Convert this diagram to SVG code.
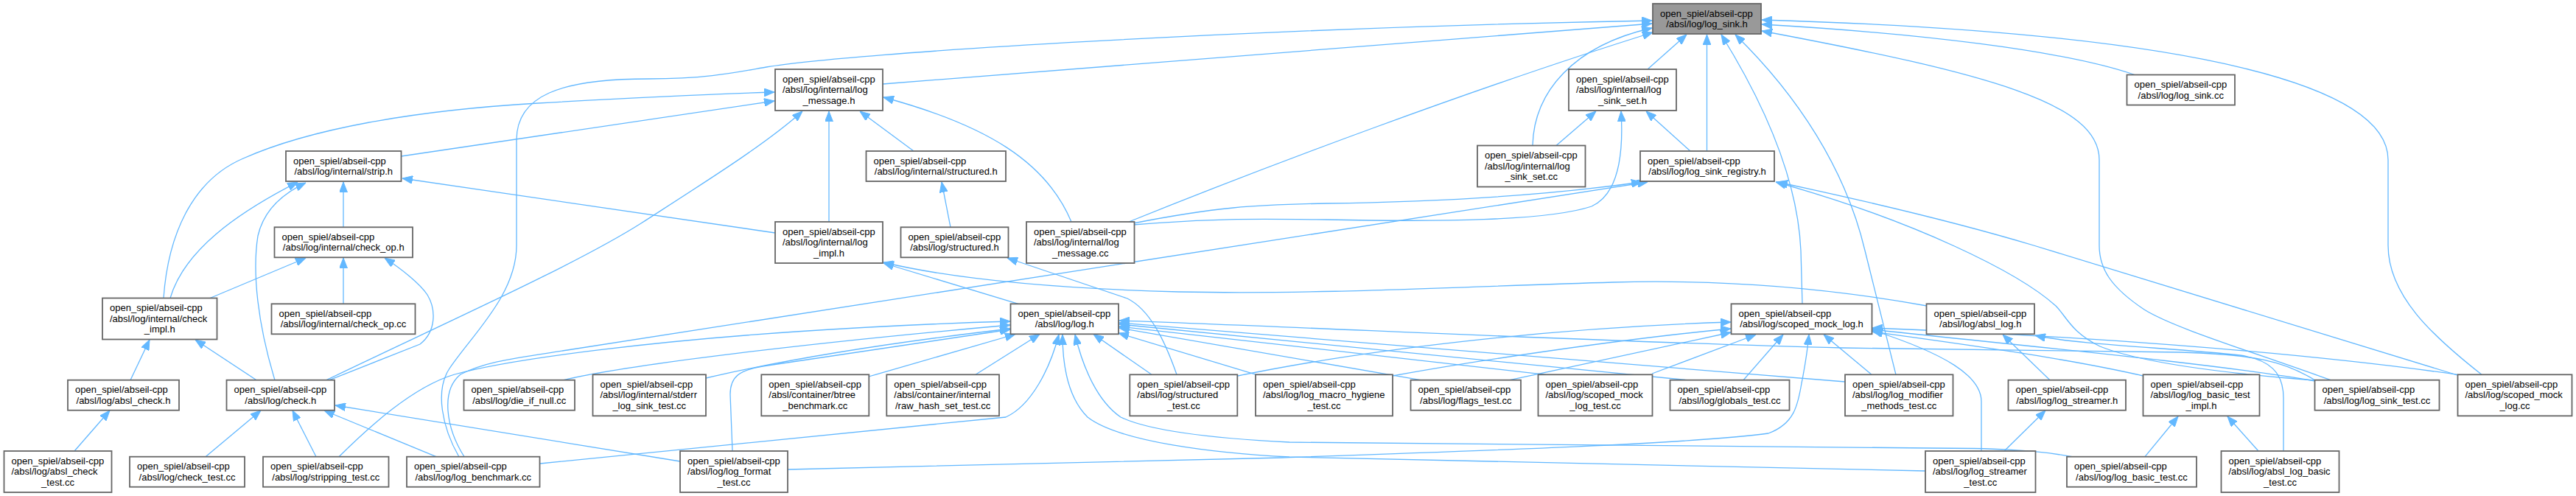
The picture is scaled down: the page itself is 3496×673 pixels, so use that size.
<svg xmlns="http://www.w3.org/2000/svg" width="3496" height="673" viewBox="0 0 3496 673">
<defs>
<marker id="a" viewBox="0 0 14 11" refX="14" refY="5.5" markerWidth="14" markerHeight="11" markerUnits="userSpaceOnUse" orient="auto">
<path d="M0,0 L14,5.5 L0,11 z" fill="#63b8ff" stroke="#63b8ff" stroke-width="1"/>
</marker>
<style>
.n rect{fill:#ffffff;stroke:#666666;stroke-width:1.8}
.root rect{fill:#999999}
text{font-family:"Liberation Sans",Arial,Helvetica,sans-serif;font-size:13px;fill:#000000}
text.m{text-anchor:middle}
.c path{fill:none;stroke:#63b8ff;stroke-width:1.3;marker-end:url(#a)}
</style>
</defs>
<rect width="3496" height="673" fill="#ffffff"/>
<g class="c" id="connectors">
<path d="M1198,114 L2242,32"/>
<path d="M2236,94 L2289,47"/>
<path d="M2080,197 C2082,125 2135,62 2242,38"/>
<path d="M2316.5,205 L2316.5,47"/>
<path d="M2897,101.5 C2800,68 2600,45 2391,33"/>
<path d="M1532,301 C1720,225 2000,120 2243,44"/>
<path d="M623,620 C600,580 590,530 610,500 C640,455 701,400 701,333 L701,190 C701,130 760,107 880,107 C960,107 1000,98 1040,91 C1150,72 1700,38 2242,28"/>
<path d="M2446,412.3 L2444,340 C2440,250 2400,150 2336,47"/>
<path d="M2573,508.3 L2531,340 C2505,230 2440,130 2355,47"/>
<path d="M3163,515.7 C3050,475 2950,445 2910,420 C2865,390 2849,365 2849,333 L2849,217 C2849,140 2700,100 2391,42"/>
<path d="M3368,508.3 C3300,455 3241,400 3241,333 L3241,217 C3241,120 3000,45 2391,27"/>
<path d="M544.5,212 L1051,137"/>
<path d="M222,404.5 C228,320 260,245 330,215 C420,175 560,150 730,140 C850,133 950,128 1051,125"/>
<path d="M443,515.7 C600,440 780,360 870,303 C960,245 1040,195 1089,151"/>
<path d="M1125,301 L1125,151"/>
<path d="M1240,205 L1167,151"/>
<path d="M1454,301 C1420,220 1340,170 1199,132"/>
<path d="M2112,197.5 L2166,151"/>
<path d="M2294,205 L2234,151"/>
<path d="M1538,305 C1650,296 1700,297 1800,298 C1950,301 2100,300 2160,280 C2200,262 2203,200 2200,151"/>
<path d="M466,308.3 L466,247"/>
<path d="M231,404.5 C250,340 320,290 404,247"/>
<path d="M373,515.7 C350,440 342,370 350,320 C358,285 385,262 415,248"/>
<path d="M1052,316 L546,242"/>
<path d="M1290,308.3 L1278,247"/>
<path d="M1538,303 C1650,281 1700,278 1800,276 C1950,274 2100,265 2228,247"/>
<path d="M630,619.7 C605,580 598,530 625,508 C660,490 700,486 770,475 L2236,247"/>
<path d="M3140,516 C3000,505 2900,490 2850,470 C2810,450 2805,430 2790,415 C2740,370 2600,300 2410,247"/>
<path d="M3335,509 L2760,333 C2650,300 2520,270 2412,247"/>
<path d="M285,404.5 L415,350"/>
<path d="M466,412.3 L466,350"/>
<path d="M447,515.7 L570,467 C592,450 592,420 580,400 C570,385 545,365 522,350"/>
<path d="M1382,412.3 L1199,357"/>
<path d="M2615,415 C2450,385 2300,380 2189,383 C2000,388 1800,400 1600,396 C1450,392 1300,380 1199,356"/>
<path d="M1597,508.3 C1580,460 1560,420 1530,405 L1367,350"/>
<path d="M177,515.7 L203,461"/>
<path d="M348,515.7 L265,461"/>
<path d="M101,612 L149,557"/>
<path d="M279,619.7 L354,557"/>
<path d="M429,619.7 L397,557"/>
<path d="M592,619.7 L440,557"/>
<path d="M923,626 L455,550"/>
<path d="M765,515.7 C850,495 1100,465 1371,441"/>
<path d="M958,513 C1100,480 1250,460 1371,446"/>
<path d="M1179,511 L1378,453.5"/>
<path d="M1324,508.3 L1411,453.5"/>
<path d="M1563,508.3 L1484,453.5"/>
<path d="M1705,508.3 L1518,452"/>
<path d="M1928,515.7 L1519,445"/>
<path d="M2098,508.3 L1519,443"/>
<path d="M2290,515.7 L1519,440"/>
<path d="M2504,518 L1519,438"/>
<path d="M3142,516 C3100,490 3060,481 2960,478 L2500,472 C2200,465 1800,445 1519,435"/>
<path d="M460,619.7 C500,580 560,525 617,508 C700,485 900,462 1080,450 C1200,442 1300,438 1371,436"/>
<path d="M733,629 L1365,566 C1400,550 1425,500 1437,454"/>
<path d="M994,612 L991,535 C991,510 1005,502 1035,497 L1371,447"/>
<path d="M2613,639 C2300,630 2000,625 1750,620 C1650,615 1520,600 1476,566 C1450,540 1442,500 1442,454"/>
<path d="M2812,619.7 C2760,610 2700,608 2620,608 L1750,600 C1650,595 1560,585 1521,566 C1490,545 1470,500 1459,454"/>
<path d="M1680,510 C1850,475 2100,445 2349,437"/>
<path d="M1890,510 C2000,490 2200,460 2349,446"/>
<path d="M2049,515.7 L2349,451"/>
<path d="M2242,507 L2383,454"/>
<path d="M2366,515.7 L2420,454"/>
<path d="M2540,508.3 L2475,454"/>
<path d="M1069,637 L1740,621 C2000,612 2300,602 2400,588 C2435,575 2440,550 2445,520 C2450,495 2453,475 2455,454"/>
<path d="M2689,612 L2689,545 C2689,510 2640,480 2541,448"/>
<path d="M2908.5,510 C2800,485 2650,465 2541,450"/>
<path d="M3142,517 C3000,492 2700,465 2541,447"/>
<path d="M3335.5,508.3 C3100,475 2800,455 2541,445"/>
<path d="M2782,515.7 L2718,454"/>
<path d="M3099,612 L3099,540 C3099,505 3080,488 3040,482 C2950,472 2820,468 2762,455"/>
<path d="M2720,612 L2776,557"/>
<path d="M2911,619.7 L2956,565"/>
<path d="M3065,612 L3023,565"/>
</g>
<g class="n root" id="log_sink_h"><rect x="2243" y="5" width="147" height="41"/><text x="2253" y="22.7">open_spiel/abseil-cpp</text><text class="m" x="2316.5" y="37.1">/absl/log/log_sink.h</text></g>
<g class="n" id="log_message_h"><rect x="1052" y="94" width="146" height="56"/><text x="1062" y="111.7">open_spiel/abseil-cpp</text><text x="1062" y="126.1">/absl/log/internal/log</text><text class="m" x="1125" y="140.5">_message.h</text></g>
<g class="n" id="log_sink_set_h"><rect x="2129" y="94" width="146" height="56"/><text x="2139" y="111.7">open_spiel/abseil-cpp</text><text x="2139" y="126.1">/absl/log/internal/log</text><text class="m" x="2202" y="140.5">_sink_set.h</text></g>
<g class="n" id="log_sink_cc"><rect x="2886.5" y="101.5" width="146.5" height="41"/><text x="2896.5" y="119.2">open_spiel/abseil-cpp</text><text class="m" x="2959.75" y="133.6">/absl/log/log_sink.cc</text></g>
<g class="n" id="strip_h"><rect x="388" y="205" width="156.5" height="41"/><text x="398" y="222.7">open_spiel/abseil-cpp</text><text class="m" x="466.25" y="237.1">/absl/log/internal/strip.h</text></g>
<g class="n" id="internal_structured_h"><rect x="1175.5" y="205" width="189.5" height="41"/><text x="1185.5" y="222.7">open_spiel/abseil-cpp</text><text class="m" x="1270.25" y="237.1">/absl/log/internal/structured.h</text></g>
<g class="n" id="log_sink_set_cc"><rect x="2005" y="197.5" width="146.5" height="56"/><text x="2015" y="215.2">open_spiel/abseil-cpp</text><text x="2015" y="229.6">/absl/log/internal/log</text><text class="m" x="2078.25" y="244">_sink_set.cc</text></g>
<g class="n" id="log_sink_registry_h"><rect x="2226" y="205" width="182" height="41"/><text x="2236" y="222.7">open_spiel/abseil-cpp</text><text class="m" x="2317" y="237.1">/absl/log/log_sink_registry.h</text></g>
<g class="n" id="check_op_h"><rect x="372.5" y="308.3" width="187.5" height="41"/><text x="382.5" y="326">open_spiel/abseil-cpp</text><text class="m" x="466.25" y="340.4">/absl/log/internal/check_op.h</text></g>
<g class="n" id="log_impl_h"><rect x="1052" y="301" width="146" height="56"/><text x="1062" y="318.7">open_spiel/abseil-cpp</text><text x="1062" y="333.1">/absl/log/internal/log</text><text class="m" x="1125" y="347.5">_impl.h</text></g>
<g class="n" id="structured_h"><rect x="1222.5" y="308.3" width="146" height="41"/><text x="1232.5" y="326">open_spiel/abseil-cpp</text><text class="m" x="1295.5" y="340.4">/absl/log/structured.h</text></g>
<g class="n" id="log_message_cc"><rect x="1393" y="301" width="146.5" height="56"/><text x="1403" y="318.7">open_spiel/abseil-cpp</text><text x="1403" y="333.1">/absl/log/internal/log</text><text class="m" x="1466.25" y="347.5">_message.cc</text></g>
<g class="n" id="check_impl_h"><rect x="139" y="404.5" width="155.5" height="56"/><text x="149" y="422.2">open_spiel/abseil-cpp</text><text x="149" y="436.6">/absl/log/internal/check</text><text class="m" x="216.75" y="451">_impl.h</text></g>
<g class="n" id="check_op_cc"><rect x="368.5" y="412.3" width="195" height="41"/><text x="378.5" y="430">open_spiel/abseil-cpp</text><text class="m" x="466" y="444.4">/absl/log/internal/check_op.cc</text></g>
<g class="n" id="log_h"><rect x="1371.5" y="412.3" width="146.5" height="41"/><text x="1381.5" y="430">open_spiel/abseil-cpp</text><text class="m" x="1444.75" y="444.4">/absl/log/log.h</text></g>
<g class="n" id="scoped_mock_log_h"><rect x="2349.5" y="412.3" width="191" height="41"/><text x="2359.5" y="430">open_spiel/abseil-cpp</text><text class="m" x="2445" y="444.4">/absl/log/scoped_mock_log.h</text></g>
<g class="n" id="absl_log_h"><rect x="2614.5" y="412.3" width="146.5" height="41"/><text x="2624.5" y="430">open_spiel/abseil-cpp</text><text class="m" x="2687.75" y="444.4">/absl/log/absl_log.h</text></g>
<g class="n" id="absl_check_h"><rect x="92" y="515.7" width="151" height="41"/><text x="102" y="533.4">open_spiel/abseil-cpp</text><text class="m" x="167.5" y="547.8">/absl/log/absl_check.h</text></g>
<g class="n" id="check_h"><rect x="307.5" y="515.7" width="146.5" height="41"/><text x="317.5" y="533.4">open_spiel/abseil-cpp</text><text class="m" x="380.75" y="547.8">/absl/log/check.h</text></g>
<g class="n" id="die_if_null_cc"><rect x="629.5" y="515.7" width="150.5" height="41"/><text x="639.5" y="533.4">open_spiel/abseil-cpp</text><text class="m" x="704.75" y="547.8">/absl/log/die_if_null.cc</text></g>
<g class="n" id="stderr_log_sink_test_cc"><rect x="804.5" y="508.3" width="153.5" height="56"/><text x="814.5" y="526">open_spiel/abseil-cpp</text><text x="814.5" y="540.4">/absl/log/internal/stderr</text><text class="m" x="881.25" y="554.8">_log_sink_test.cc</text></g>
<g class="n" id="btree_benchmark_cc"><rect x="1033.3" y="508.3" width="146" height="56"/><text x="1043.3" y="526">open_spiel/abseil-cpp</text><text x="1043.3" y="540.4">/absl/container/btree</text><text class="m" x="1106.3" y="554.8">_benchmark.cc</text></g>
<g class="n" id="raw_hash_set_test_cc"><rect x="1203.3" y="508.3" width="152.7" height="56"/><text x="1213.3" y="526">open_spiel/abseil-cpp</text><text x="1213.3" y="540.4">/absl/container/internal</text><text class="m" x="1279.65" y="554.8">/raw_hash_set_test.cc</text></g>
<g class="n" id="structured_test_cc"><rect x="1533.3" y="508.3" width="146" height="56"/><text x="1543.3" y="526">open_spiel/abseil-cpp</text><text x="1543.3" y="540.4">/absl/log/structured</text><text class="m" x="1606.3" y="554.8">_test.cc</text></g>
<g class="n" id="log_macro_hygiene_test_cc"><rect x="1704" y="508.3" width="186" height="56"/><text x="1714" y="526">open_spiel/abseil-cpp</text><text x="1714" y="540.4">/absl/log/log_macro_hygiene</text><text class="m" x="1797" y="554.8">_test.cc</text></g>
<g class="n" id="flags_test_cc"><rect x="1914.5" y="515.7" width="149.5" height="41"/><text x="1924.5" y="533.4">open_spiel/abseil-cpp</text><text class="m" x="1989.25" y="547.8">/absl/log/flags_test.cc</text></g>
<g class="n" id="scoped_mock_log_test_cc"><rect x="2087.5" y="508.3" width="155" height="56"/><text x="2097.5" y="526">open_spiel/abseil-cpp</text><text x="2097.5" y="540.4">/absl/log/scoped_mock</text><text class="m" x="2165" y="554.8">_log_test.cc</text></g>
<g class="n" id="globals_test_cc"><rect x="2266.5" y="515.7" width="162" height="41"/><text x="2276.5" y="533.4">open_spiel/abseil-cpp</text><text class="m" x="2347.5" y="547.8">/absl/log/globals_test.cc</text></g>
<g class="n" id="log_modifier_methods_test_cc"><rect x="2504" y="508.3" width="146.5" height="56"/><text x="2514" y="526">open_spiel/abseil-cpp</text><text x="2514" y="540.4">/absl/log/log_modifier</text><text class="m" x="2577.25" y="554.8">_methods_test.cc</text></g>
<g class="n" id="log_streamer_h"><rect x="2725.5" y="515.7" width="159.5" height="41"/><text x="2735.5" y="533.4">open_spiel/abseil-cpp</text><text class="m" x="2805.25" y="547.8">/absl/log/log_streamer.h</text></g>
<g class="n" id="log_basic_test_impl_h"><rect x="2908.5" y="508.3" width="158" height="56"/><text x="2918.5" y="526">open_spiel/abseil-cpp</text><text x="2918.5" y="540.4">/absl/log/log_basic_test</text><text class="m" x="2987.5" y="554.8">_impl.h</text></g>
<g class="n" id="log_sink_test_cc"><rect x="3141.5" y="515.7" width="169" height="41"/><text x="3151.5" y="533.4">open_spiel/abseil-cpp</text><text class="m" x="3226" y="547.8">/absl/log/log_sink_test.cc</text></g>
<g class="n" id="scoped_mock_log_cc"><rect x="3335.5" y="508.3" width="155" height="56"/><text x="3345.5" y="526">open_spiel/abseil-cpp</text><text x="3345.5" y="540.4">/absl/log/scoped_mock</text><text class="m" x="3413" y="554.8">_log.cc</text></g>
<g class="n" id="absl_check_test_cc"><rect x="5.5" y="612" width="146" height="56"/><text x="15.5" y="629.7">open_spiel/abseil-cpp</text><text x="15.5" y="644.1">/absl/log/absl_check</text><text class="m" x="78.5" y="658.5">_test.cc</text></g>
<g class="n" id="check_test_cc"><rect x="176" y="619.7" width="156" height="41"/><text x="186" y="637.4">open_spiel/abseil-cpp</text><text class="m" x="254" y="651.8">/absl/log/check_test.cc</text></g>
<g class="n" id="stripping_test_cc"><rect x="357" y="619.7" width="170.5" height="41"/><text x="367" y="637.4">open_spiel/abseil-cpp</text><text class="m" x="442.25" y="651.8">/absl/log/stripping_test.cc</text></g>
<g class="n" id="log_benchmark_cc"><rect x="552" y="619.7" width="180.5" height="41"/><text x="562" y="637.4">open_spiel/abseil-cpp</text><text class="m" x="642.25" y="651.8">/absl/log/log_benchmark.cc</text></g>
<g class="n" id="log_format_test_cc"><rect x="923" y="612" width="146" height="56"/><text x="933" y="629.7">open_spiel/abseil-cpp</text><text x="933" y="644.1">/absl/log/log_format</text><text class="m" x="996" y="658.5">_test.cc</text></g>
<g class="n" id="log_streamer_test_cc"><rect x="2613" y="612" width="149.5" height="56"/><text x="2623" y="629.7">open_spiel/abseil-cpp</text><text x="2623" y="644.1">/absl/log/log_streamer</text><text class="m" x="2687.75" y="658.5">_test.cc</text></g>
<g class="n" id="log_basic_test_cc"><rect x="2805" y="619.7" width="176" height="41"/><text x="2815" y="637.4">open_spiel/abseil-cpp</text><text class="m" x="2893" y="651.8">/absl/log/log_basic_test.cc</text></g>
<g class="n" id="absl_log_basic_test_cc"><rect x="3014.5" y="612" width="160" height="56"/><text x="3024.5" y="629.7">open_spiel/abseil-cpp</text><text x="3024.5" y="644.1">/absl/log/absl_log_basic</text><text class="m" x="3094.5" y="658.5">_test.cc</text></g>
</svg>
